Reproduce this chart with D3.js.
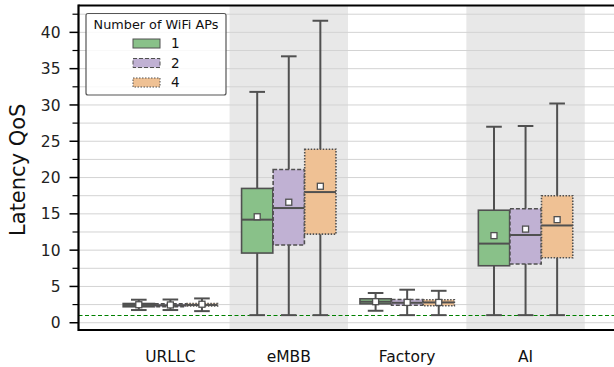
<!DOCTYPE html>
<html><head><meta charset="utf-8">
<script src="https://cdn.jsdelivr.net/npm/d3@7"></script>
<style>body{margin:0;background:#fff;} svg{display:block;font-family:"DejaVu Sans",sans-serif;}</style>
</head><body>
<svg id="c" width="614" height="367"></svg>
<script>
const categories = ["URLLC", "eMBB", "Factory", "AI"];
const hues = ["1", "2", "4"];
// rows: categories, columns: hues (1, 2, 4 APs)
const whiskerLow  = [[1.75, 1.75, 1.6], [1.05, 1.05, 1.05], [1.65, 1.05, 1.05], [1.05, 1.05, 1.05]];
const q1          = [[2.2, 2.2, 2.3], [9.6, 10.7, 12.2], [2.6, 2.4, 2.35], [7.85, 8.1, 8.95]];
const medianVals  = [[2.45, 2.4, 2.45], [14.2, 15.8, 18.0], [2.9, 2.75, 2.8], [10.9, 12.1, 13.4]];
const q3          = [[2.65, 2.6, 2.65], [18.5, 21.1, 23.9], [3.3, 3.2, 3.17], [15.5, 15.7, 17.5]];
const whiskerHigh = [[3.17, 3.2, 3.35], [31.8, 36.7, 41.6], [4.1, 4.55, 4.4], [27.0, 27.1, 30.2]];
const meanVals    = [[2.48, 2.45, 2.55], [14.6, 16.6, 18.8], [2.9, 2.8, 2.8], [12.0, 12.9, 14.2]];
const yTicks = [0, 5, 10, 15, 20, 25, 30, 35, 40];
const refLine = 1;

const colors = ["#89c189", "#c0b1d3", "#efc194"];
const dashes = [null, "4,2", "1.5,1.5"];
const edge = "#505050";

const svg = d3.select("#c");
const L = 78.5, R = 614, T = 5.5, B = 330;
const x = d3.scaleLinear().domain([-0.776, 3.747]).range([L, R]);
const y = d3.scaleLinear().domain([-1, 43.7]).range([B, T]);
const hueOff = d3.scaleBand().domain(hues).range([-0.4, 0.4]);
const bw = hueOff.bandwidth() * 0.99;

// shaded bands for alternating categories
categories.forEach((c, i) => {
  if (i % 2 === 1) {
    svg.append("rect").attr("x", x(i - 0.5)).attr("y", T).attr("width", x(i + 0.5) - x(i - 0.5)).attr("height", B - T).attr("fill", "#e8e8e8");
  }
});

// grid
const gridVals = d3.range(0, 43.7, 2.5);
svg.append("g").selectAll("line").data(gridVals).join("line")
  .attr("x1", L).attr("x2", R).attr("y1", d => y(d)).attr("y2", d => y(d))
  .attr("stroke", "#d3d3d3").attr("stroke-width", 1);

// reference line
svg.append("line").attr("x1", L).attr("x2", R).attr("y1", y(refLine)).attr("y2", y(refLine))
  .attr("stroke", "#008000").attr("stroke-width", 1.2).attr("stroke-dasharray", "4,2.5");

// boxes
const g = svg.append("g");
categories.forEach((c, i) => {
  hues.forEach((h, j) => {
    const cx = x(i + hueOff(h) + hueOff.bandwidth() / 2);
    const x0 = x(i + hueOff(h) + (hueOff.bandwidth() - bw) / 2);
    const w = x(bw) - x(0);
    const capW = w / 2;
    // whiskers
    g.append("line").attr("x1", cx).attr("x2", cx).attr("y1", y(q3[i][j])).attr("y2", y(whiskerHigh[i][j])).attr("stroke", edge).attr("stroke-width", 2);
    g.append("line").attr("x1", cx).attr("x2", cx).attr("y1", y(q1[i][j])).attr("y2", y(whiskerLow[i][j])).attr("stroke", edge).attr("stroke-width", 2);
    [whiskerHigh[i][j], whiskerLow[i][j]].forEach(v => {
      g.append("line").attr("x1", cx - capW / 2).attr("x2", cx + capW / 2).attr("y1", y(v)).attr("y2", y(v)).attr("stroke", edge).attr("stroke-width", 2);
    });
    // box
    g.append("rect").attr("x", x0).attr("y", y(q3[i][j])).attr("width", w).attr("height", Math.max(1, y(q1[i][j]) - y(q3[i][j])))
      .attr("fill", colors[j]).attr("stroke", edge).attr("stroke-width", 1.6)
      .attr("stroke-dasharray", dashes[j]);
    // median
    g.append("line").attr("x1", x0).attr("x2", x0 + w).attr("y1", y(medianVals[i][j])).attr("y2", y(medianVals[i][j])).attr("stroke", edge).attr("stroke-width", 2);
    // mean
    const ms = 6;
    g.append("rect").attr("x", cx - ms / 2).attr("y", y(meanVals[i][j]) - ms / 2).attr("width", ms).attr("height", ms)
      .attr("fill", "#fff").attr("stroke", edge).attr("stroke-width", 1.3);
  });
});

// spines
svg.append("line").attr("x1", L).attr("x2", R).attr("y1", T).attr("y2", T).attr("stroke", "#000").attr("stroke-width", 2.2);
svg.append("line").attr("x1", L).attr("x2", R).attr("y1", B).attr("y2", B).attr("stroke", "#000").attr("stroke-width", 2.2);
svg.append("line").attr("x1", L).attr("x2", L).attr("y1", T - 1.1).attr("y2", B + 1.1).attr("stroke", "#000").attr("stroke-width", 2.2);

// y axis ticks
const ya = svg.append("g");
yTicks.forEach(t => {
  ya.append("line").attr("x1", L - 9).attr("x2", L).attr("y1", y(t)).attr("y2", y(t)).attr("stroke", "#000").attr("stroke-width", 1.5);
  ya.append("text").attr("x", L - 18).attr("y", y(t)).attr("dy", "0.36em").attr("text-anchor", "end").attr("font-size", 15.5).attr("fill", "#222").text(t);
});
d3.range(2.5, 43.7, 5).forEach(t => {
  ya.append("line").attr("x1", L - 6).attr("x2", L).attr("y1", y(t)).attr("y2", y(t)).attr("stroke", "#000").attr("stroke-width", 1.2);
});
svg.append("text").attr("transform", `translate(25,${(T + B) / 2 + 2}) rotate(-90)`).attr("text-anchor", "middle")
  .attr("font-size", 21).attr("fill", "#111").text("Latency QoS");

// x labels
categories.forEach((c, i) => {
  svg.append("text").attr("x", x(i)).attr("y", 361.5).attr("text-anchor", "middle").attr("font-size", 15.5).attr("fill", "#111").text(c);
});

// legend
const lg = svg.append("g");
lg.append("rect").attr("x", 86).attr("y", 13.5).attr("width", 140).attr("height", 81.5).attr("rx", 2)
  .attr("fill", "#fff").attr("fill-opacity", 0.85).attr("stroke", "#555").attr("stroke-width", 1.2);
lg.append("text").attr("x", 156).attr("y", 24.5).attr("dy", "0.36em").attr("text-anchor", "middle").attr("font-size", 12.8).attr("fill", "#111").text("Number of WiFi APs");
hues.forEach((h, j) => {
  const yy = 43.5 + j * 19.5;
  lg.append("rect").attr("x", 133).attr("y", yy - 4.5).attr("width", 27).attr("height", 9)
    .attr("fill", colors[j]).attr("stroke", edge).attr("stroke-width", 1).attr("stroke-dasharray", dashes[j]);
  lg.append("text").attr("x", 171).attr("y", yy).attr("dy", "0.36em").attr("font-size", 13.5).attr("fill", "#111").text(h);
});
</script>
</body></html>
